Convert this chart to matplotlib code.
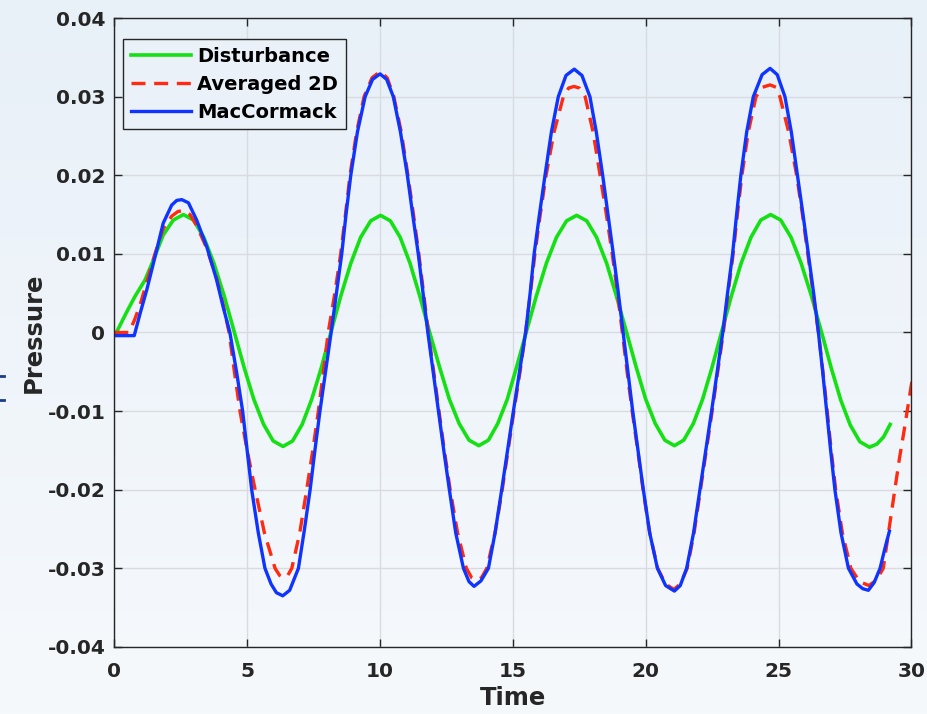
import numpy as np
import matplotlib
matplotlib.use("Agg")
import matplotlib.pyplot as plt
from matplotlib.colors import LinearSegmentedColormap
from matplotlib.lines import Line2D

# values
t_green = [0.0, 0.08, 0.45, 0.78, 1.16, 1.47, 1.84, 2.22, 2.6, 2.98, 3.37, 3.75, 4.14, 4.52,
           4.89, 5.25, 5.62, 5.98, 6.35, 6.71, 7.07, 7.43, 7.79, 8.15, 8.52, 8.9, 9.27, 9.65,
           10.02, 10.39, 10.76, 11.13, 11.5, 11.87, 12.24, 12.61, 12.98, 13.35, 13.72, 14.08,
           14.43, 14.79, 15.14, 15.5, 15.88, 16.26, 16.64, 17.02, 17.4, 17.78, 18.15, 18.53,
           18.9, 19.28, 19.64, 20.0, 20.36, 20.72, 21.08, 21.43, 21.79, 22.14, 22.5, 22.85,
           23.22, 23.59, 23.96, 24.33, 24.7, 25.08, 25.47, 25.85, 26.24, 26.62, 26.98, 27.34,
           27.7, 28.06, 28.42, 28.7, 28.95, 29.2]
p_green = [0.0, 0.0, 0.0025, 0.0046, 0.0067, 0.0092, 0.0124, 0.0143, 0.0150, 0.0143, 0.0121,
           0.0088, 0.0046, 0.0, -0.0045, -0.0085, -0.0117, -0.0138, -0.0145, -0.0138, -0.0117,
           -0.0085, -0.0045, 0.0, 0.0046, 0.0088, 0.0121, 0.0142, 0.0149, 0.0142, 0.0121,
           0.0088, 0.0046, 0.0, -0.0044, -0.0085, -0.0116, -0.0137, -0.0144, -0.0137, -0.0116,
           -0.0085, -0.0044, 0.0, 0.0046, 0.0088, 0.0121, 0.0142, 0.0149, 0.0142, 0.0121,
           0.0088, 0.0046, 0.0, -0.0044, -0.0085, -0.0116, -0.0137, -0.0144, -0.0137, -0.0116,
           -0.0085, -0.0044, 0.0, 0.0046, 0.0088, 0.0121, 0.0143, 0.0150, 0.0143, 0.0121,
           0.0088, 0.0046, 0.0, -0.0045, -0.0086, -0.0118, -0.0139, -0.0146, -0.0142, -0.0133,
           -0.0117]

t_red = [0.0, 0.55, 0.75, 0.97, 1.22, 1.53, 1.84, 2.16, 2.4, 2.62, 2.85, 3.1, 3.48, 3.85, 4.1,
         4.32, 4.52, 4.73, 5.0, 5.3, 5.65, 6.05, 6.22, 6.38, 6.53, 6.68, 6.98, 7.24, 7.47, 7.68,
         7.87, 8.05, 8.3, 8.52, 8.7, 8.87, 9.12, 9.4, 9.7, 10.0, 10.27, 10.52, 10.8, 11.05,
         11.26, 11.46, 11.64, 11.82, 12.02, 12.22, 12.42, 12.64, 12.92, 13.25, 13.45, 13.62,
         13.82, 14.02, 14.33, 14.6, 14.82, 15.04, 15.27, 15.48, 15.66, 15.83, 16.03, 16.25,
         16.55, 16.9, 17.1, 17.3, 17.5, 17.72, 18.02, 18.28, 18.52, 18.74, 18.94, 19.12, 19.3,
         19.49, 19.7, 19.9, 20.15, 20.45, 20.75, 21.06, 21.3, 21.56, 21.82, 22.06, 22.28, 22.5,
         22.71, 22.92, 23.1, 23.29, 23.45, 23.62, 23.86, 24.15, 24.4, 24.68, 24.9, 25.05,
         25.38, 25.68, 25.9, 26.1, 26.3, 26.5, 26.67, 26.83, 26.98, 27.15, 27.4, 27.72, 28.05,
         28.4, 28.68, 28.94, 29.19, 29.38, 29.55, 29.7, 29.85, 30.0, 30.1]
p_red = [0.0, 0.0, 0.0015, 0.0035, 0.0064, 0.0100, 0.0132, 0.0148, 0.0154, 0.0155, 0.0150,
         0.0136, 0.0107, 0.0069, 0.0035, 0.0, -0.005, -0.01, -0.015, -0.02, -0.0255, -0.03,
         -0.0309, -0.0312, -0.0309, -0.03, -0.0255, -0.02, -0.015, -0.01, -0.005, 0.0, 0.005,
         0.01, 0.015, 0.02, 0.0255, 0.03, 0.0324, 0.0332, 0.0324, 0.03, 0.0255, 0.02, 0.015,
         0.01, 0.005, 0.0, -0.005, -0.01, -0.015, -0.02, -0.0255, -0.03, -0.0312, -0.0315,
         -0.0312, -0.03, -0.0255, -0.02, -0.015, -0.01, -0.005, 0.0, 0.005, 0.01, 0.015, 0.02,
         0.0255, 0.03, 0.0311, 0.0313, 0.0311, 0.03, 0.0255, 0.02, 0.015, 0.01, 0.005, 0.0,
         -0.005, -0.01, -0.015, -0.02, -0.0255, -0.03, -0.0320, -0.0327, -0.0320, -0.03,
         -0.0255, -0.02, -0.015, -0.01, -0.005, 0.0, 0.005, 0.01, 0.015, 0.02, 0.0255, 0.03,
         0.0312, 0.0315, 0.0312, 0.03, 0.0255, 0.02, 0.015, 0.01, 0.005, 0.0, -0.005, -0.01,
         -0.015, -0.02, -0.0255, -0.03, -0.0317, -0.0322, -0.0315, -0.03, -0.0243, -0.02,
         -0.0160, -0.0130, -0.0098, -0.0066, -0.0046]

t_blue = [0.0, 0.75, 0.97, 1.22, 1.53, 1.84, 2.16, 2.35, 2.54, 2.79, 3.1, 3.48, 3.85, 4.1, 4.35,
          4.6, 4.83, 5.0, 5.17, 5.42, 5.67, 5.9, 6.1, 6.34, 6.6, 6.93, 7.15, 7.37, 7.55, 7.74,
          7.95, 8.16, 8.36, 8.56, 8.72, 8.9, 9.15, 9.44, 9.72, 10.0, 10.25, 10.5, 10.77, 11.03,
          11.23, 11.44, 11.62, 11.8, 12.0, 12.2, 12.4, 12.61, 12.85, 13.14, 13.35, 13.54, 13.8,
          14.08, 14.33, 14.58, 14.8, 15.02, 15.25, 15.48, 15.65, 15.8, 16.0, 16.21, 16.45,
          16.71, 17.0, 17.31, 17.6, 17.9, 18.14, 18.38, 18.58, 18.78, 18.97, 19.15, 19.33,
          19.51, 19.71, 19.91, 20.15, 20.44, 20.75, 21.08, 21.3, 21.54, 21.8, 22.04, 22.26,
          22.48, 22.69, 22.9, 23.08, 23.27, 23.42, 23.58, 23.8, 24.05, 24.38, 24.68, 24.95,
          25.24, 25.48, 25.71, 25.92, 26.12, 26.32, 26.5, 26.66, 26.81, 26.96, 27.12, 27.35,
          27.63, 27.95, 28.17, 28.38, 28.6, 28.82, 29.0, 29.17]
p_blue = [-0.0004, -0.0004, 0.0024, 0.0054, 0.0096, 0.0139, 0.0162, 0.0168, 0.0169, 0.0165,
          0.0143, 0.0109, 0.0067, 0.0032, 0.0, -0.005, -0.01, -0.015, -0.02, -0.0255, -0.03,
          -0.0320, -0.0331, -0.0335, -0.0328, -0.03, -0.0252, -0.02, -0.015, -0.01, -0.005,
          0.0, 0.005, 0.01, 0.015, 0.02, 0.0255, 0.03, 0.0322, 0.0329, 0.0322, 0.03, 0.0255,
          0.02, 0.015, 0.01, 0.005, 0.0, -0.005, -0.01, -0.015, -0.02, -0.0255, -0.03, -0.0317,
          -0.0323, -0.0316, -0.03, -0.0255, -0.02, -0.015, -0.01, -0.005, 0.0, 0.005, 0.01,
          0.015, 0.02, 0.0255, 0.03, 0.0327, 0.0335, 0.0327, 0.03, 0.0255, 0.02, 0.015, 0.01,
          0.005, 0.0, -0.005, -0.01, -0.015, -0.02, -0.0255, -0.03, -0.0322, -0.0329, -0.0322,
          -0.03, -0.0255, -0.02, -0.015, -0.01, -0.005, 0.0, 0.005, 0.01, 0.015, 0.02, 0.0255,
          0.03, 0.0328, 0.0336, 0.0328, 0.03, 0.0255, 0.02, 0.015, 0.01, 0.005, 0.0, -0.005,
          -0.01, -0.015, -0.02, -0.0255, -0.03, -0.0320, -0.0326, -0.0328, -0.0318, -0.03,
          -0.0275, -0.0253]

x_ticks = [0, 5, 10, 15, 20, 25, 30]
y_ticks = [-0.04, -0.03, -0.02, -0.01, 0, 0.01, 0.02, 0.03, 0.04]
y_tick_labels = ["-0.04", "-0.03", "-0.02", "-0.01", "0", "0.01", "0.02", "0.03", "0.04"]

DARK = "#262626"

fig = plt.figure(figsize=(9.27, 7.14), dpi=100)

# slide-like pale blue background
bg = fig.add_axes([0, 0, 1, 1], zorder=-10)
bg_cmap = LinearSegmentedColormap.from_list("bg", ["#E8F0F8", "#F6F9FC"])
bg.imshow(np.linspace(0, 1, 256).reshape(-1, 1), aspect="auto", cmap=bg_cmap,
          extent=[0, 1, 0, 1], origin="upper")
bg.axis("off")

ax = fig.add_axes([0.1233, 0.0940, 0.8599, 0.8807])
ax.set_facecolor("none")

ax.plot(t_green, p_green, color="#14E014", lw=2.6, solid_joinstyle="round",
        label="Disturbance")
ax.plot(t_red, p_red, color="#FF2A10", lw=2.4, ls=(0, (4.2, 2.6)), dash_joinstyle="round",
        label="Averaged 2D")
ax.plot(t_blue, p_blue, color="#1034FF", lw=2.4, solid_joinstyle="round",
        label="MacCormack")

ax.set_xlim(0, 30)
ax.set_ylim(-0.04, 0.04)
ax.set_xticks(x_ticks)
ax.set_yticks(y_ticks)
ax.set_yticklabels(y_tick_labels)
ax.grid(True, color="#D8DCE1", lw=1)
ax.set_axisbelow(True)
ax.tick_params(direction="in", top=True, right=True, length=5.5, width=1,
               colors=DARK, labelsize=14.5)
ax.tick_params(axis="x", pad=11)
ax.tick_params(axis="y", pad=6.5)
for lab in ax.get_xticklabels() + ax.get_yticklabels():
    lab.set_fontweight("bold")
for sp in ax.spines.values():
    sp.set_color(DARK)
    sp.set_linewidth(1)

ax.set_xlabel("Time", fontsize=17.5, fontweight="bold", color=DARK)
ax.set_ylabel("Pressure", fontsize=17.5, fontweight="bold", color=DARK)
ax.xaxis.set_label_coords(0.5, -0.062)
ax.yaxis.set_label_coords(-0.086, 0.5)

leg = ax.legend(loc="upper left", bbox_to_anchor=(123.3 / 927, 1 - 39.3 / 714),
                bbox_transform=fig.transFigure, borderaxespad=0,
                prop={"weight": "bold", "size": 14}, handlelength=3.1,
                handletextpad=0.3, borderpad=0.4, labelspacing=0.45,
                fancybox=False, edgecolor=DARK, facecolor="#EAF1F9", framealpha=1)
leg.get_frame().set_linewidth(1)

# small stray marks at the left edge of the slide
for yy in (376, 400):
    fig.add_artist(Line2D([0, 4 / 927], [1 - yy / 714] * 2, transform=fig.transFigure,
                          color="#1B3C8C", lw=2))

fig.savefig("out.png", dpi=100)
